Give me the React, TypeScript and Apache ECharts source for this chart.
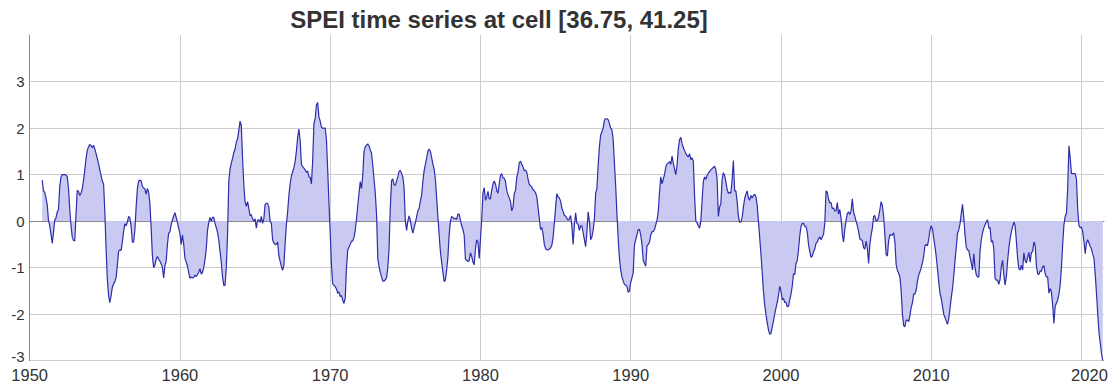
import React, { useEffect, useRef } from "react";
import * as echarts from "echarts";

// Monthly SPEI values for the grid cell, starting November 1950.
const TITLE = "SPEI time series at cell [36.75, 41.25]";
const START_YEAR = 1950;
const START_MONTH = 10; // 0-based: November

const spei1950s = [
  0.88, 0.65,
  0.62, 0.5, 0.35, 0.02, -0.1, -0.28, -0.48, -0.25, 0.02, 0.07, 0.2, 0.25,
  0.75, 0.95, 1.0, 1.0, 1.0, 0.99, 0.95, 0.7, 0.25, -0.1, -0.35, -0.42,
  -0.42, 0.15, 0.66, 0.64, 0.55, 0.6, 0.7, 0.88, 1.1, 1.35, 1.52, 1.6,
  1.65, 1.62, 1.58, 1.63, 1.55, 1.45, 1.35, 1.23, 1.1, 0.98, 0.86, 0.8,
  0.2, -0.6, -1.25, -1.6, -1.75, -1.6, -1.42, -1.35, -1.3, -1.22, -0.95, -0.65,
  -0.62, -0.63, -0.45, -0.22, -0.06, -0.1, -0.02, 0.1, 0.07, -0.12, -0.45, -0.45,
  -0.2, 0.3, 0.7, 0.86, 0.88, 0.86, 0.75, 0.71, 0.69, 0.58, 0.7, 0.62,
  0.38, -0.15, -0.75, -1.0, -0.95, -0.82, -0.76, -0.82, -0.86, -0.92, -1.0, -1.22,
  -0.95, -0.86, -0.5, -0.26, -0.23, -0.08, 0.03, 0.11, 0.18, 0.08, -0.03, -0.15,
];

const spei1960s = [
  -0.27, -0.5, -0.3, -0.5, -0.8, -0.88, -0.97, -1.1, -1.23, -1.2, -1.22, -1.21,
  -1.16, -1.19, -1.15, -1.1, -1.02, -1.14, -1.1, -1.0, -0.83, -0.6, -0.2, -0.03,
  0.08, 0.0, 0.08, 0.08, -0.05, -0.14, -0.24, -0.4, -0.65, -0.88, -1.2, -1.38,
  -1.38, -1.0, -0.3, 0.85, 1.12, 1.24, 1.35, 1.47, 1.55, 1.7, 1.77, 1.95,
  2.15, 2.05, 1.35, 0.78, 0.42, 0.32, 0.42, 0.28, 0.12, 0.14, 0.05, 0.0,
  0.05, -0.15, 0.02, 0.03, -0.03, 0.1, -0.05, 0.05, 0.36, 0.38, 0.38, 0.3,
  0.0, -0.05, -0.4, -0.47, -0.5, -0.5, -0.45, -0.75, -0.86, -0.97, -1.06, -0.95,
  -0.48, -0.08, 0.2, 0.55, 0.8, 0.97, 1.06, 1.15, 1.28, 1.5, 1.8, 1.98,
  1.73, 1.23, 1.17, 1.14, 1.1, 1.05, 1.08, 0.95, 0.94, 0.8, 1.3, 2.1,
  2.2, 2.5, 2.55, 2.24, 2.15, 2.02, 1.99, 2.0, 2.0, 1.75, 1.09, 0.4,
];

const spei1970s = [
  -0.25, -0.95, -1.35, -1.38, -1.41, -1.46, -1.55, -1.52, -1.62, -1.6, -1.7, -1.77,
  -1.65, -1.0, -0.62, -0.56, -0.5, -0.43, -0.43, -0.35, -0.2, 0.05, 0.33, 0.6,
  0.85, 0.7, 0.98, 1.5, 1.6, 1.63, 1.66, 1.62, 1.53, 1.46, 1.2, 0.9,
  0.6, 0.15, -0.8, -0.98, -1.1, -1.2, -1.29, -1.29, -1.26, -1.22, -1.0, -0.6,
  0.3, 0.87, 0.91, 0.78, 0.77, 0.86, 0.95, 1.07, 1.09, 1.02, 0.95, 0.72,
  0.0, -0.2, 0.0, 0.11, 0.02, -0.15, -0.26, -0.14, -0.04, 0.09, 0.22, 0.27,
  0.43, 0.56, 0.85, 1.08, 1.22, 1.35, 1.5, 1.55, 1.5, 1.37, 1.23, 1.12,
  0.9, 0.5, 0.1, -0.3, -0.65, -0.88, -1.1, -1.3, -1.27, -1.05, -0.78, -0.3,
  0.0, 0.1, 0.08, 0.05, 0.06, 0.04, 0.15, 0.15, 0.02, -0.1, -0.18, -0.3,
  -0.82, -0.84, -0.87, -0.85, -0.68, -0.76, -0.88, -0.94, -0.6, -0.4, -0.45, -0.8,
];

const spei1980s = [
  -0.4, 0.05, 0.6, 0.72, 0.45, 0.52, 0.64, 0.48, 0.48, 0.66, 0.8, 0.86,
  0.8, 0.66, 0.6, 0.8, 0.98, 1.02, 0.93, 0.92, 0.85, 0.66, 0.57, 0.5,
  0.42, 0.22, 0.3, 0.59, 0.66, 0.94, 1.05, 1.25, 1.29, 1.22, 1.17, 1.08,
  1.1, 1.05, 0.9, 0.79, 0.76, 0.73, 0.68, 0.65, 0.61, 0.52, 0.3, 0.05,
  -0.18, -0.14, -0.28, -0.5, -0.59, -0.62, -0.62, -0.6, -0.58, -0.52, -0.35, -0.05,
  0.3, 0.59, 0.52, 0.5, 0.43, 0.28, 0.21, 0.12, 0.11, 0.06, 0.02, 0.05,
  0.12, -0.1, -0.5, -0.1, 0.18, -0.05, -0.07, -0.2, -0.1, -0.1, -0.25, -0.4,
  -0.55, -0.25, 0.2, 0.0, -0.4, -0.34, -0.2, 0.05, 0.6, 0.7, 1.2, 1.6,
  1.85, 1.92, 2.0, 2.17, 2.2, 2.2, 2.18, 2.1, 2.0, 1.96, 1.75, 1.25,
  0.75, 0.15, -0.38, -0.8, -1.05, -1.2, -1.29, -1.36, -1.38, -1.4, -1.53, -1.5,
];

const spei1990s = [
  -1.32, -1.22, -1.1, -0.52, -0.39, -0.3, -0.18, -0.18, -0.3, -0.5, -0.84, -0.91,
  -0.97, -0.53, -0.5, -0.45, -0.3, -0.23, -0.22, -0.18, -0.08, 0.02, 0.2, 0.62,
  0.95, 0.8, 0.9, 1.0, 1.16, 1.23, 1.25, 1.28, 1.22, 1.4, 1.25, 1.12,
  1.0, 1.2, 1.55, 1.75, 1.8, 1.67, 1.58, 1.52, 1.45, 1.41, 1.38, 1.45,
  1.32, 1.36, 1.29, 0.55, 0.0, -0.04, -0.1, -0.15, 0.0, 0.45, 0.85, 0.95,
  0.9, 0.98, 1.03, 1.07, 1.1, 1.13, 1.15, 1.18, 1.1, 0.9, 0.1, 0.3,
  0.38, 0.9, 1.04, 0.98, 0.85, 0.68, 0.6, 0.62, 0.6, 0.9, 1.3, 0.65,
  0.65, 0.42, 0.1, -0.02, -0.02, 0.08, 0.3, 0.48, 0.58, 0.65, 0.5, 0.45,
  0.55, 0.5, 0.55, 0.58, 0.52, 0.35, 0.0, -0.35, -0.7, -1.1, -1.5, -1.8,
  -2.0, -2.18, -2.33, -2.43, -2.42, -2.28, -2.15, -2.0, -1.87, -1.75, -1.6, -1.4,
];

const spei2000s = [
  -1.5, -1.69, -1.66, -1.75, -1.74, -1.84, -1.83, -1.7, -1.57, -1.4, -1.13, -1.15,
  -0.91, -0.85, -0.62, -0.32, -0.12, -0.05, -0.05, -0.11, -0.12, -0.24, -0.5, -0.65,
  -0.78, -0.75, -0.66, -0.6, -0.48, -0.45, -0.38, -0.34, -0.4, -0.34, -0.28, -0.05,
  0.65, 0.62, 0.47, 0.39, 0.4, 0.27, 0.28, 0.22, 0.22, 0.4, 0.15, 0.25,
  0.05, -0.28, -0.45, -0.18, 0.02, 0.16, 0.2, 0.14, 0.22, 0.48, 0.2, 0.1,
  0.0, -0.1, -0.22, -0.38, -0.4, -0.42, -0.57, -0.6, -0.43, -0.58, -0.91, -0.5,
  -0.3, -0.15, 0.1, 0.12, 0.0, 0.02, 0.09, 0.25, 0.42, 0.33, 0.1, -0.3,
  -0.72, -0.75, -0.42, -0.29, -0.3, -0.3, -0.25, -0.45, -0.93, -1.06, -1.12, -1.2,
  -1.5, -2.0, -2.25, -2.27, -2.13, -2.13, -2.16, -2.03, -1.86, -1.75, -1.57, -1.57,
  -1.48, -1.3, -1.16, -1.09, -1.0, -0.89, -0.76, -0.53, -0.5, -0.53, -0.4, -0.2,
];

const spei2010s = [
  -0.1, -0.17, -0.37, -0.55, -0.76, -1.02, -1.3, -1.55, -1.66, -1.82, -2.0, -2.07,
  -2.15, -2.22, -2.1, -1.88, -1.65, -1.45, -1.18, -0.85, -0.57, -0.26, -0.19, -0.06,
  0.16, 0.36, 0.08, -0.3, -0.56, -0.62, -0.63, -0.77, -0.9, -1.05, -0.7, -1.0,
  -1.15, -1.2, -1.2, -0.65, -0.4, -0.25, -0.15, -0.08, -0.02, 0.03, -0.15, -0.14,
  -0.45, -0.42, -0.6, -1.23, -1.27, -1.27, -1.36, -1.25, -0.98, -0.84, -1.15, -1.37,
  -1.2, -0.86, -0.58, -0.38, -0.23, -0.12, -0.02, -0.1, -0.42, -0.8, -1.02, -1.05,
  -0.95, -1.05, -0.68, -0.85, -0.9, -0.78, -0.67, -0.88, -0.68, -0.65, -0.45, -0.52,
  -0.95, -1.13, -1.15, -1.07, -1.08, -0.98, -0.96, -1.13, -1.2, -1.2, -1.55, -1.45,
  -1.52, -1.8, -2.2, -1.83, -1.76, -1.7, -1.57, -1.37, -1.0, -0.5, -0.08, 0.1,
  0.17, 0.7, 1.62, 1.36, 1.02, 1.02, 1.02, 1.02, 0.9, 0.25, -0.1, -0.14,
];

const spei2020s = [
  -0.13, -0.23, -0.45, -0.7, -0.47, -0.4, -0.47, -0.54, -0.6, -0.71, -0.8, -1.15,
  -1.55, -2.0, -2.4, -2.62, -2.85, -3.0,
];

const yearTicks = [1950, 1960, 1970, 1980, 1990, 2000, 2010, 2020];
const speiTicks = [-3, -2, -1, 0, 1, 2, 3];

const FONT = '"Liberation Sans", Arial, Helvetica, sans-serif';

function buildSeries(): [number, number][] {
  const values = [
    ...spei1950s,
    ...spei1960s,
    ...spei1970s,
    ...spei1980s,
    ...spei1990s,
    ...spei2000s,
    ...spei2010s,
    ...spei2020s,
  ];
  return values.map((v, i) => [START_YEAR + (START_MONTH + i) / 12, v]);
}

export default function App() {
  const ref = useRef<HTMLDivElement>(null);

  useEffect(() => {
    if (!ref.current) return;
    const chart = echarts.init(ref.current, undefined, { renderer: "svg" });
    const lastYearTick = yearTicks[yearTicks.length - 1];

    chart.setOption({
      animation: false,
      backgroundColor: "#ffffff",
      textStyle: { fontFamily: FONT },
      graphic: [
        {
          type: "text",
          x: 499,
          y: 7,
          style: {
            text: TITLE,
            font: `bold 24px ${FONT}`,
            fill: "#333333",
            align: "center",
            verticalAlign: "top",
          },
        },
      ],
      grid: { left: 29.7, right: 12, top: 35, bottom: 26.3, containLabel: false },
      xAxis: {
        type: "value",
        min: 1950,
        max: 2021.5,
        interval: 10,
        axisLine: { show: true, lineStyle: { color: "#8a8a8a", width: 1 } },
        axisTick: { show: false },
        axisLabel: {
          fontSize: 16.5,
          color: "#333333",
          margin: 6,
          showMaxLabel: false,
          formatter: (v: number) => {
            if (!yearTicks.includes(v)) return "";
            return v === lastYearTick ? `{shift|${v}}` : String(v);
          },
          rich: {
            shift: { fontSize: 16.5, color: "#333333", padding: [0, 0, 0, 16] },
          },
        },
        splitLine: {
          show: true,
          showMaxLine: false,
          lineStyle: { color: "#cccccc", width: 1 },
        },
      },
      yAxis: [
        {
          type: "value",
          min: -3,
          max: 4,
          interval: 1,
          axisLine: { show: true, lineStyle: { color: "#8a8a8a", width: 1 } },
          axisTick: { show: false },
          axisLabel: {
            fontSize: 15,
            color: "#333333",
            margin: 5,
            padding: [8, 0, 0, 0],
            formatter: (v: number) =>
              speiTicks.includes(v) && v !== speiTicks[0] ? String(v) : "",
          },
          splitLine: {
            show: true,
            showMaxLine: false,
            lineStyle: { color: "#cccccc", width: 1 },
          },
        },
        {
          // the lowest label sits just above the x axis line
          type: "value",
          position: "left",
          min: -3,
          max: 4,
          interval: 1,
          axisLine: { show: false },
          axisTick: { show: false },
          splitLine: { show: false },
          axisLabel: {
            fontSize: 15,
            color: "#333333",
            margin: 5,
            lineHeight: 8,
            verticalAlign: "bottom",
            formatter: (v: number) => (v === speiTicks[0] ? String(v) : ""),
          },
        },
      ],
      series: [
        {
          type: "line",
          data: buildSeries(),
          showSymbol: false,
          symbol: "none",
          clip: true,
          lineStyle: { color: "#2e2eaa", width: 1.2 },
          areaStyle: { color: "#c9c9f1", opacity: 1, origin: 0 },
        },
      ],
    });

    return () => chart.dispose();
  }, []);

  return (
    <div
      ref={ref}
      style={{ position: "absolute", left: 0, top: 0, width: 1116, height: 387 }}
    />
  );
}
